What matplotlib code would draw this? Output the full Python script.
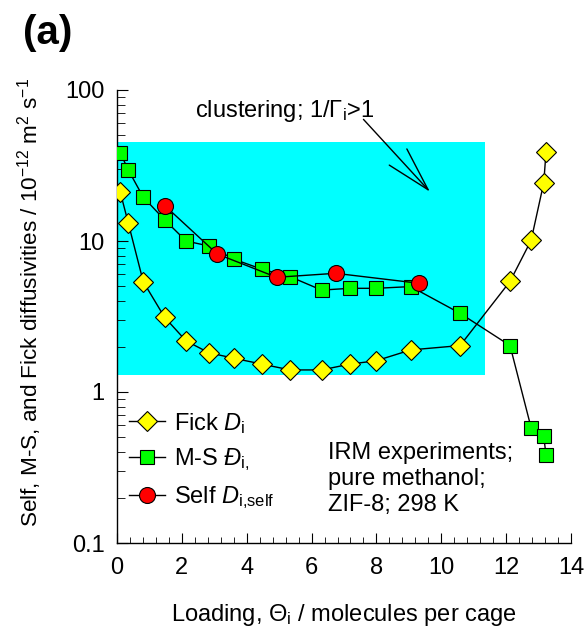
import numpy as np
import matplotlib.pyplot as plt
from matplotlib.patches import Rectangle
from matplotlib.ticker import MultipleLocator, LogLocator, NullFormatter, FixedFormatter, FixedLocator

plt.rcParams['font.family'] = ['Liberation Sans', 'DejaVu Sans']
plt.rcParams['mathtext.fontset'] = 'custom'
plt.rcParams['mathtext.rm'] = 'Liberation Sans'
plt.rcParams['mathtext.it'] = 'Liberation Sans:italic'
plt.rcParams['mathtext.bf'] = 'Liberation Sans:bold'

# loading (molecules per cage) shared by Fick and M-S data
loading = [0.1, 0.35, 0.81, 1.47, 2.13, 2.83, 3.62, 4.47, 5.34, 6.31, 7.18,
           7.99, 9.06, 10.58, 12.12, 12.77, 13.16, 13.23]
D_fick = [21.1, 13.1, 5.37, 3.12, 2.18, 1.82, 1.67, 1.53, 1.40, 1.40, 1.53,
          1.61, 1.90, 2.03, 5.4, 10.1, 24.3, 39.0]
D_ms = [38.4, 29.5, 19.5, 13.8, 10.0, 9.27, 7.56, 6.5, 5.8, 4.73, 4.86,
        4.86, 4.99, 3.32, 2.03, 0.58, 0.51, 0.38]

# self-diffusivities
loading_self = [1.48, 3.09, 4.92, 6.74, 9.31]
D_self = [17.1, 8.2, 5.75, 6.11, 5.25]

# clustering region
cluster_x = (0.0, 11.35)
cluster_y = (1.3, 45.0)

fig = plt.figure(figsize=(5.87, 6.37), dpi=100)
ax = fig.add_axes([117/587, 1 - 543/637, 454/587, 453/637])

ax.add_patch(Rectangle((cluster_x[0], cluster_y[0]), cluster_x[1] - cluster_x[0],
                       cluster_y[1] - cluster_y[0], facecolor='#00ffff',
                       edgecolor='none', zorder=0))

ax.plot(loading, D_fick, '-D', color='black', lw=1, markersize=10,
        markerfacecolor='#ffff00', markeredgecolor='black', markeredgewidth=0.8,
        label=r'Fick $D_\mathrm{i}$', zorder=3)
ax.plot(loading, D_ms, '-s', color='black', lw=1, markersize=10,
        markerfacecolor='#00ff00', markeredgecolor='black', markeredgewidth=0.8,
        label='M-S $\\mathit{\u0110}_\\mathrm{i{,}}$', zorder=3)
ax.plot(loading_self, D_self, '-o', color='black', lw=1, markersize=11.5,
        markerfacecolor='#ff0000', markeredgecolor='black', markeredgewidth=0.8,
        label=r'Self $D_\mathrm{i{,}self}$', zorder=4)

ax.set_yscale('log')
ax.set_xlim(0, 14)
ax.set_ylim(0.1, 100)

ax.xaxis.set_major_locator(MultipleLocator(2))
ax.xaxis.set_minor_locator(MultipleLocator(0.4))
ax.yaxis.set_major_locator(FixedLocator([0.1, 1, 10, 100]))
ax.yaxis.set_major_formatter(FixedFormatter(['0.1', '1', '10', '100']))
ax.yaxis.set_minor_locator(LogLocator(base=10, subs=np.arange(2, 10)))
ax.yaxis.set_minor_formatter(NullFormatter())

ax.tick_params(which='both', direction='in', labelsize=17, top=False, right=False)
ax.tick_params(axis='x', which='major', length=7, pad=10)
ax.tick_params(axis='x', which='minor', length=4.5)
ax.tick_params(axis='y', which='major', length=8, pad=9)
ax.tick_params(axis='y', which='minor', length=5.5)

for side in ['top', 'right']:
    ax.spines[side].set_visible(False)
for side in ['left', 'bottom']:
    ax.spines[side].set_linewidth(1)

ax.text(2.4, 73, r'clustering; 1/$\Gamma_\mathrm{i}$>1', fontsize=17,
        ha='left', va='center')
ax.annotate('', xy=(9.65, 21.2), xytext=(7.6, 63.9),
            arrowprops=dict(arrowstyle='->,head_length=32,head_width=8.6',
                            mutation_scale=1, color='black', lw=1,
                            shrinkA=0, shrinkB=0))

ax.text(6.5, 0.265, 'IRM experiments;\npure methanol;\nZIF-8; 298 K',
        fontsize=17, ha='left', va='center', linespacing=1.22)

ax.legend(loc='upper left', bbox_to_anchor=(0.026, 0.292), frameon=False,
          fontsize=17, handlelength=1.55, handletextpad=0.35,
          labelspacing=0.46, borderpad=0, borderaxespad=0)

fig.text(30/587, 1 - 302/637,
         r'Self, M-S, and Fick diffusivities / 10$^{-12}$ m$^2$ s$^{-1}$',
         rotation=90, ha='center', va='center', fontsize=16.2)
fig.text(344/587, 1 - 615/637, r'Loading, $\Theta_\mathrm{i}$ / molecules per cage',
         ha='center', va='center', fontsize=17)
fig.text(23/587, 1 - 33/637, '(a)', fontsize=29, fontweight='bold',
         ha='left', va='center')

fig.savefig('out.png', dpi=100)
